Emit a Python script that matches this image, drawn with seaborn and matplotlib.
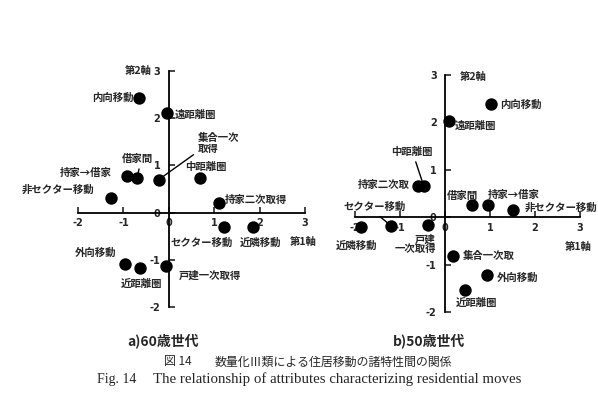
import matplotlib
matplotlib.use("Agg")
import matplotlib.pyplot as plt
import seaborn as sns
import pandas as pd

sns.set_style("white")
plt.rcParams['font.family'] = ['Noto Sans CJK JP', 'DejaVu Sans']

# ---- data: a) 60歳世代 ----
labels_60 = ["内向移動", "遠距離圏", "集合一次取得", "中距離圏", "借家間", "持家→借家",
             "非セクター移動", "持家二次取得", "セクター移動", "近隣移動",
             "外向移動", "近距離圏", "戸建一次取得"]
x_60 = [-0.66, -0.04, -0.22, 0.68, -0.70, -0.92, -1.27, 1.10, 1.21, 1.85, -0.97, -0.64, -0.07]
y_60 = [2.43, 2.10, 0.70, 0.74, 0.74, 0.77, 0.30, 0.20, -0.30, -0.30, -1.08, -1.17, -1.13]

# ---- data: b) 50歳世代 ----
labels_50 = ["内向移動", "遠距離圏", "持家二次取", "中距離圏", "借家間", "持家→借家",
             "非セクター移動", "近隣移動", "セクター移動", "戸建一次取得",
             "集合一次取", "外向移動", "近距離圏"]
x_50 = [1.02, 0.09, -0.60, -0.47, 0.60, 0.96, 1.51, -1.87, -1.20, -0.38, 0.18, 0.93, 0.44]
y_50 = [2.38, 2.02, 0.65, 0.65, 0.25, 0.25, 0.15, -0.20, -0.18, -0.17, -0.82, -1.22, -1.54]

ticks = [-2, -1, 0, 1, 2, 3]
panel_titles = ["a)60歳世代", "b)50歳世代"]
axis1_label = "第1軸"
axis2_label = "第2軸"
caption_jp_no = "図 14"
caption_jp = "数量化Ⅲ類による住居移動の諸特性間の関係"
caption_en_no = "Fig. 14"
caption_en = "The relationship of attributes characterizing residential moves"

# ---- label layout (text position, alignment, leader line) ----
layout_60 = {
    "内向移動": (-0.77, 2.43, 'right', None),
    "遠距離圏": (0.13, 2.08, 'left', None),
    "集合一次取得": (0.64, 1.47, 'left', (0.0, 0.1)),
    "中距離圏": (0.81, 0.96, 'center', None),
    "借家間": (-0.70, 1.13, 'center', (0.6, 0.0)),
    "持家→借家": (-1.25, 0.83, 'right', None),
    "非セクター移動": (-1.63, 0.49, 'right', None),
    "持家二次取得": (1.23, 0.26, 'left', None),
    "セクター移動": (0.73, -0.64, 'center', None),
    "近隣移動": (2.02, -0.64, 'center', None),
    "外向移動": (-1.62, -0.85, 'center', None),
    "近距離圏": (-0.59, -1.51, 'center', None),
    "戸建一次取得": (0.22, -1.34, 'left', None),
}
text_60 = {"集合一次取得": "集合一次\n取得"}

layout_50 = {
    "内向移動": (1.22, 2.38, 'left', None),
    "遠距離圏": (0.22, 1.92, 'left', None),
    "中距離圏": (-0.73, 1.37, 'center', (0.55, 0.0)),
    "持家二次取": (-0.78, 0.67, 'right', None),
    "借家間": (0.38, 0.44, 'center', None),
    "持家→借家": (0.96, 0.46, 'left', None),
    "非セクター移動": (1.78, 0.19, 'left', None),
    "セクター移動": (-1.56, 0.21, 'center', (0.5, 0.0)),
    "近隣移動": (-1.96, -0.61, 'center', None),
    "戸建一次取得": (-0.20, -0.57, 'right', None),
    "集合一次取": (0.40, -0.82, 'left', None),
    "外向移動": (1.16, -1.28, 'left', None),
    "近距離圏": (0.71, -1.81, 'center', None),
}
text_50 = {"戸建一次取得": "戸建\n一次取得"}

W, H = 598, 398
fig = plt.figure(figsize=(W / 100, H / 100), dpi=100)

def px_axes(x0, x1, ytop, ybot):
    return fig.add_axes([x0 / W, 1 - ybot / H, (x1 - x0) / W, (ybot - ytop) / H])

ax1 = px_axes(78, 305, 71, 307)
ax2 = px_axes(355, 580, 75, 312)

jp = ['Noto Sans CJK JP', 'DejaVu Sans']

def draw(ax, labels, xs, ys, layout, texts, ylab_side):
    df = pd.DataFrame({"x": xs, "y": ys, "label": labels})
    sns.scatterplot(data=df, x="x", y="y", ax=ax, s=80, color="black",
                    edgecolor="black", linewidth=0, clip_on=False, zorder=5)
    ax.set_xlim(-2, 3)
    ax.set_ylim(-2, 3)
    for s in ["top", "right"]:
        ax.spines[s].set_visible(False)
    ax.spines["left"].set_position(("data", 0))
    ax.spines["bottom"].set_position(("data", 0))
    for s in ["left", "bottom"]:
        ax.spines[s].set_linewidth(1.3)
        ax.spines[s].set_color("black")
    ax.set_xticks(ticks)
    ax.set_yticks(ticks)
    ax.set_xticklabels([str(t) for t in ticks])
    ax.set_yticklabels([str(t) for t in ticks])
    ax.tick_params(axis='x', direction='in', length=4, width=1.2, pad=4,
                   labelsize=7, bottom=True)
    ax.tick_params(axis='y', direction='in', length=4, width=1.2, pad=6,
                   labelsize=7, left=True)
    for t in ax.get_xticklabels() + ax.get_yticklabels():
        t.set_fontweight('bold')
        t.set_family(['DejaVu Sans'])
    ax.set_xlabel("")
    ax.set_ylabel("")
    ax.patch.set_alpha(0)
    for lab, x, y in zip(labels, xs, ys):
        tx, ty, ha, rel = layout[lab]
        txt = texts.get(lab, lab)
        if rel is None:
            ax.text(tx, ty, txt, ha=ha, va='center', fontsize=7.5,
                    fontweight='bold', family=jp, multialignment=ha,
                    clip_on=False, linespacing=1.0)
        else:
            ax.annotate(txt, xy=(x, y), xytext=(tx, ty), ha=ha, va='center',
                        fontsize=7.5, fontweight='bold', family=jp,
                        annotation_clip=False, linespacing=1.1,
                        arrowprops=dict(arrowstyle='-', color='black', lw=1.0,
                                        relpos=rel, shrinkA=1, shrinkB=3))
    ax.text(2.97, -0.63, axis1_label, ha='center', va='center', fontsize=7.5,
            fontweight='bold', family=jp)
    if ylab_side == 'left':
        ax.text(-0.37, 3.0, axis2_label, ha='right', va='center', fontsize=7.5,
                fontweight='bold', family=jp)
    else:
        ax.text(0.33, 2.95, axis2_label, ha='left', va='center', fontsize=7.5,
                fontweight='bold', family=jp)

draw(ax1, labels_60, x_60, y_60, layout_60, text_60, 'left')
draw(ax2, labels_50, x_50, y_50, layout_50, text_50, 'right')

def ftext(px, py, s, **kw):
    fig.text(px / W, 1 - py / H, s, **kw)

serif = ['Liberation Serif', 'DejaVu Serif']
ftext(127, 341, panel_titles[0], ha='left', va='center', fontsize=10,
      fontweight='bold', family=jp)
ftext(393, 341, panel_titles[1], ha='left', va='center', fontsize=10,
      fontweight='bold', family=jp)
ftext(164, 362, caption_jp_no, ha='left', va='center', fontsize=8.6, family=jp)
ftext(215, 362, caption_jp, ha='left', va='center', fontsize=8.6, family=jp)
ftext(97, 379, caption_en_no, ha='left', va='center', fontsize=10, family=serif)
ftext(153, 379, caption_en, ha='left', va='center', fontsize=10.7, family=serif)

fig.savefig("out.png", dpi=100, facecolor='white')
